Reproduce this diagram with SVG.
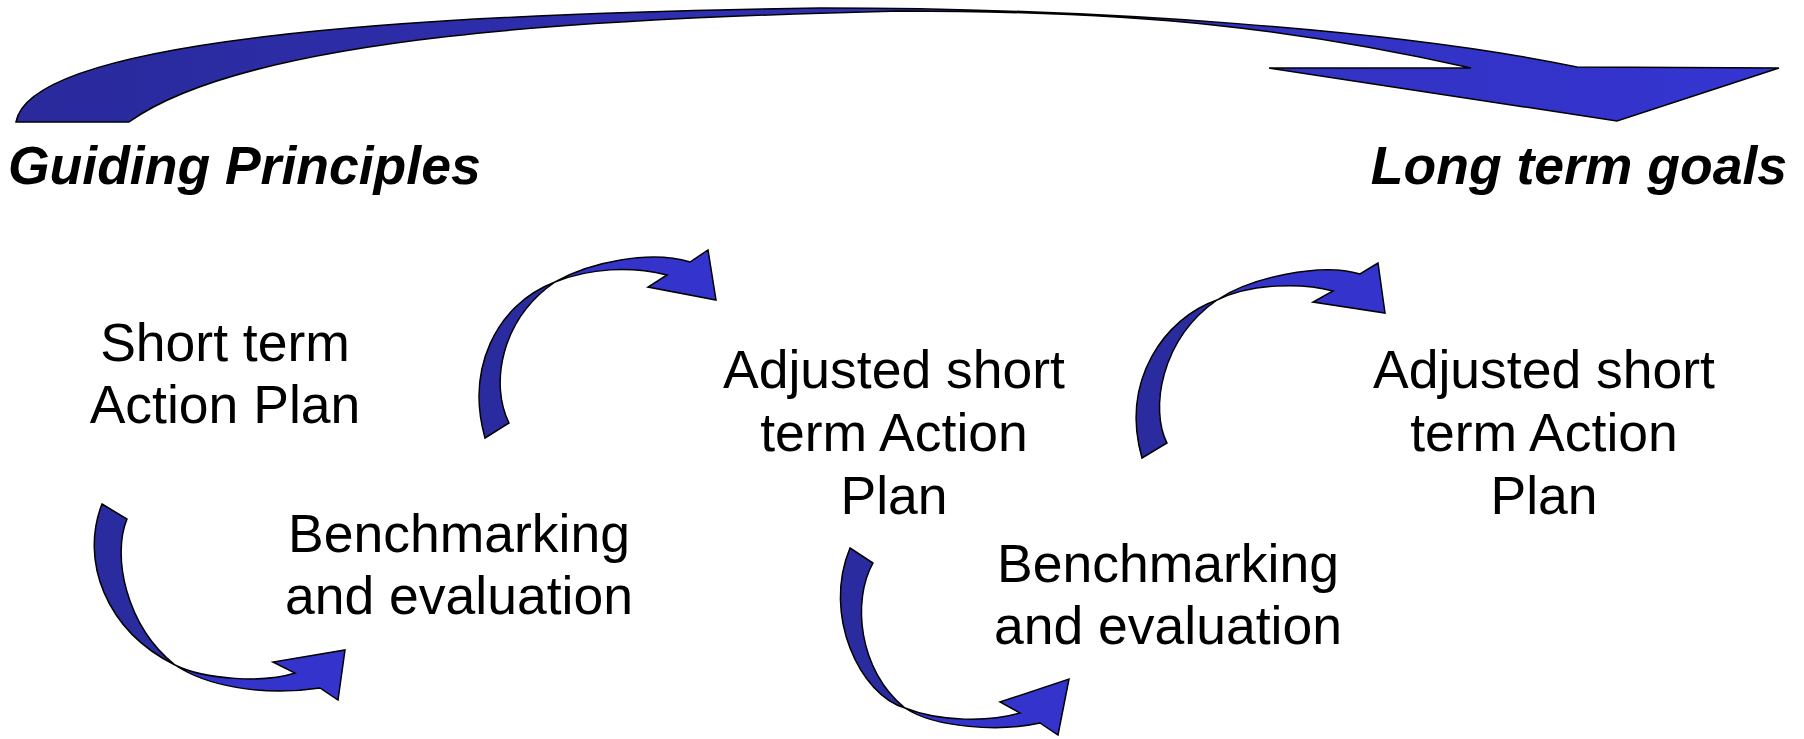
<svg xmlns="http://www.w3.org/2000/svg" width="1804" height="739" viewBox="0 0 1804 739">
<defs>
<linearGradient id="gTop" gradientUnits="userSpaceOnUse" x1="0" y1="0" x2="1804" y2="0">
<stop offset="0" stop-color="#2a2a9c"/>
<stop offset="1" stop-color="#3535d2"/>
</linearGradient>
</defs>
<style>
.lbl{font-family:"Liberation Sans",Arial,sans-serif;font-size:53.5px;fill:#000;text-anchor:middle}
.ttl{font-family:"Liberation Sans",Arial,sans-serif;font-size:53.5px;font-weight:bold;font-style:italic;fill:#000}
.dark{fill:#2b2ba0;stroke:#000;stroke-width:1.5;stroke-linejoin:miter}
.bright{fill:#3434cc;stroke:#000;stroke-width:1.5;stroke-linejoin:miter}
.top{fill:url(#gTop);stroke:#000;stroke-width:1.5}
</style>
<rect width="1804" height="739" fill="#fff"/>
<g id="connectors">
<path id="arrow-top" class="top" d="M 16,122 C 30,40 400,14 820,8 C 1100,8 1400,30 1577,67 L 1779,68 L 1617,121 L 1269,68 L 1471,68 C 1300,30 1150,11 900,11 C 600,18 250,35 129,122 Z"/>
<g id="arrow-1">
<path class="dark" d="M 102,504 L 127,519 C 112,555 125,625 175,665 C 105,630 80,560 102,504 Z"/>
<path class="bright" d="M 175,665 C 205,685 260,697 320,688 L 338,700 L 345,650 L 273,662 L 295,673 C 265,683 205,680 175,665 Z"/>
</g>
<g id="arrow-2">
<path class="dark" d="M 485,438 L 509,423 C 490,385 500,320 555,282 C 495,305 466,370 485,438 Z"/>
<path class="bright" d="M 555,282 C 590,262 650,250 690,262 L 708,250 L 716,300 L 648,287 L 667,275 C 630,266 590,268 555,282 Z"/>
</g>
<g id="arrow-3">
<path class="dark" d="M 850,548 L 873,563 C 852,600 858,670 905,708 C 860,695 822,615 850,548 Z"/>
<path class="bright" d="M 905,708 C 935,728 1000,732 1040,723 L 1058,735 L 1069,679 L 1000,702 L 1020,713 C 990,722 940,722 905,708 Z"/>
</g>
<g id="arrow-4">
<path class="dark" d="M 1142,458 L 1167,443 C 1150,410 1160,340 1217,300 C 1165,318 1120,380 1142,458 Z"/>
<path class="bright" d="M 1217,300 C 1250,278 1320,262 1360,274 L 1378,263 L 1385,313 L 1313,302 L 1333,291 C 1300,282 1250,284 1217,300 Z"/>
</g>
</g>
<g id="guiding-principles"><text class="ttl" x="8" y="184">Guiding Principles</text></g>
<g id="long-term-goals"><text class="ttl" x="1787" y="184" text-anchor="end">Long term goals</text></g>
<g id="short-term-plan"><text class="lbl" x="225" y="361"><tspan x="225">Short term</tspan><tspan x="225" dy="62">Action Plan</tspan></text></g>
<g id="benchmarking-1"><text class="lbl" x="459" y="552"><tspan x="459">Benchmarking</tspan><tspan x="459" dy="62">and evaluation</tspan></text></g>
<g id="adjusted-plan-1"><text class="lbl" x="894" y="388"><tspan x="894">Adjusted short</tspan><tspan x="894" dy="63">term Action</tspan><tspan x="894" dy="63">Plan</tspan></text></g>
<g id="benchmarking-2"><text class="lbl" x="1168" y="582"><tspan x="1168">Benchmarking</tspan><tspan x="1168" dy="62">and evaluation</tspan></text></g>
<g id="adjusted-plan-2"><text class="lbl" x="1544" y="388"><tspan x="1544">Adjusted short</tspan><tspan x="1544" dy="63">term Action</tspan><tspan x="1544" dy="63">Plan</tspan></text></g>
</svg>
